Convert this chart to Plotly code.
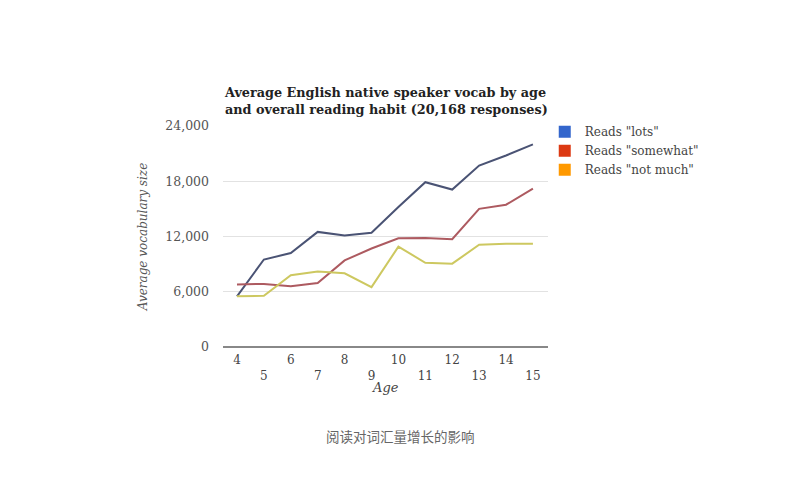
import plotly.graph_objects as go

ages = [4, 5, 6, 7, 8, 9, 10, 11, 12, 13, 14, 15]
reads_lots = [5500, 9500, 10200, 12500, 12100, 12400, 15200, 17900, 17100, 19700, 20800, 22000]
reads_somewhat = [6800, 6850, 6600, 6950, 9400, 10700, 11800, 11850, 11700, 15000, 15450, 17200]
reads_not_much = [5500, 5570, 7800, 8200, 8000, 6500, 10900, 9150, 9050, 11100, 11200, 11200]
series_names = ['Reads "lots"', 'Reads "somewhat"', 'Reads "not much"']
line_colors = ["#4a5374", "#ad5a60", "#cdc860"]
legend_colors = ["#3366cc", "#dc3912", "#ff9900"]
y_ticks = [0, 6000, 12000, 18000, 24000]
y_ticklabels = ["0", "6,000", "12,000", "18,000", "24,000"]
x_ticklabels = [str(a) if a % 2 == 0 else "<br>" + str(a) for a in ages]

serif = "DejaVu Serif"
fig = go.Figure()
for vals, name, lc in zip([reads_lots, reads_somewhat, reads_not_much], series_names, line_colors):
    fig.add_trace(go.Scatter(x=ages, y=vals, mode="lines", line=dict(color=lc, width=2),
                             showlegend=False, name=name))
for name, gc in zip(series_names, legend_colors):
    fig.add_trace(go.Scatter(x=[None], y=[None], mode="markers", name=name,
                             marker=dict(symbol="square", size=12, color=gc)))

fig.update_layout(
    width=800, height=501,
    paper_bgcolor="white", plot_bgcolor="white",
    margin=dict(l=215, r=260, t=118, b=162),
    font=dict(family=serif, color="#555"),
    annotations=[
        dict(text="<b>Average English native speaker vocab by age<br>and overall reading habit (20,168 responses)</b>",
             x=-0.003, y=1.115, xref="paper", yref="paper", showarrow=False, align="left",
             xanchor="left", yanchor="middle", font=dict(family=serif, size=12.8, color="#222")),
        dict(text="<i>Age</i>", x=0.5, y=-0.181, xref="paper", yref="paper",
             xanchor="center", yanchor="middle", showarrow=False,
             font=dict(family=serif, size=13, color="#444")),
        dict(text="阅读对词汇量增长的影响", x=0.545, y=-0.404, xref="paper", yref="paper",
             xanchor="center", yanchor="middle",
             showarrow=False, font=dict(family="Noto Sans CJK SC", size=13.5, color="#666")),
    ],
    legend=dict(x=0.99, y=1.04, xanchor="left", yanchor="top", bgcolor="rgba(0,0,0,0)",
                font=dict(family=serif, size=12, color="#444"), itemsizing="constant",
                tracegroupgap=0),
    xaxis=dict(range=[3.48, 15.56], tickvals=ages, ticktext=x_ticklabels, showgrid=False,
               zeroline=False, showline=False, ticks="", ticklabelstandoff=4,
               tickfont=dict(size=12, color="#444")),
    yaxis=dict(range=[0, 24000], tickvals=y_ticks, ticktext=y_ticklabels, showgrid=True,
               gridcolor="#e2e2e2", gridwidth=1, zeroline=True, zerolinecolor="#888",
               zerolinewidth=1.5, ticks="", ticklabelstandoff=13,
               tickfont=dict(size=12.5, color="#555"),
               title=dict(text="<i>Average vocabulary size</i>", font=dict(size=12, color="#555"),
                          standoff=15)),
)
fig.write_html("out.html")
